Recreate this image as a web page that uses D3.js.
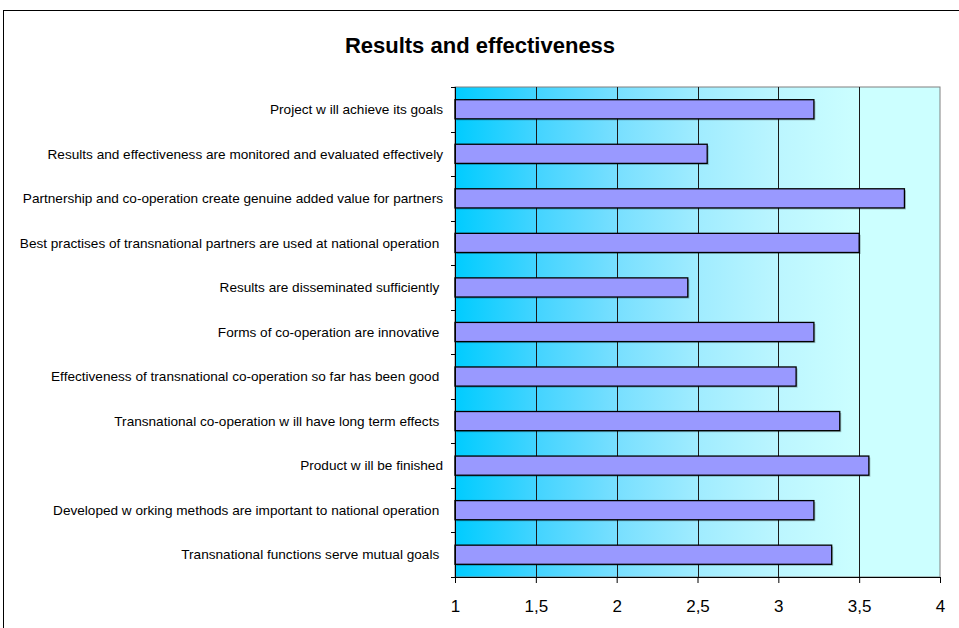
<!DOCTYPE html>
<html><head><meta charset="utf-8">
<script src="https://cdn.jsdelivr.net/npm/d3@7"></script>
<style>body{margin:0;background:#fff}svg{display:block}</style>
</head><body>
<svg id="c" width="959" height="628"></svg>
<script>
const categories = [
  "Project w ill achieve its goals",
  "Results and effectiveness are monitored and evaluated effectively",
  "Partnership and co-operation create genuine added value for partners",
  "Best practises of transnational partners are used at national operation ",
  "Results are disseminated sufficiently ",
  "Forms of co-operation are innovative ",
  "Effectiveness of transnational co-operation so far has been good ",
  "Transnational co-operation w ill have long term effects ",
  "Product w ill be finished",
  "Developed w orking methods are important to national operation ",
  "Transnational functions serve mutual goals "
];
const values = [3.22, 2.56, 3.78, 3.50, 2.44, 3.22, 3.11, 3.38, 3.56, 3.22, 3.33];
const xTicks = [1, 1.5, 2, 2.5, 3, 3.5, 4];
const title = "Results and effectiveness";

const svg = d3.select("#c");
const L = 455, R = 940, T = 87, B = 577;
const x = d3.scaleLinear().domain([1, 4]).range([L, R]);
const y = d3.scaleBand().domain(categories).range([T, B]).paddingInner(0.57).paddingOuter(0.285);
const step = y.step();
const FONT = "Liberation Sans, Arial, sans-serif";

// outer frame
svg.append("rect").attr("x", 3.5).attr("y", 10.5).attr("width", 1000).attr("height", 700)
  .attr("fill", "none").attr("stroke", "#000").attr("stroke-width", 1);

// title
svg.append("text").attr("x", 480).attr("y", 53).attr("text-anchor", "middle")
  .attr("font-family", FONT).attr("font-weight", "bold")
  .attr("font-size", 22).attr("fill", "#000").text(title);

// gradient
const defs = svg.append("defs");
const g = defs.append("linearGradient").attr("id", "bg").attr("x1", "0").attr("x2", "1").attr("y1", "0").attr("y2", "0");
[[0, "#00CCFF"], [0.17, "#44D4FF"], [0.33, "#77DFFF"], [0.5, "#A0ECFF"], [0.67, "#BCF6FF"], [0.84, "#CCFFFF"], [1, "#CCFFFF"]]
  .forEach(([o, c]) => g.append("stop").attr("offset", o).attr("stop-color", c));

svg.append("rect").attr("x", L).attr("y", T).attr("width", R - L).attr("height", B - T)
  .attr("fill", "url(#bg)").attr("stroke", "#808080").attr("stroke-width", 1);

// gridlines
svg.append("g").selectAll("line").data(xTicks.filter(d => d > 1 && d < 4)).join("line")
  .attr("x1", d => Math.round(x(d)) + 0.5).attr("x2", d => Math.round(x(d)) + 0.5)
  .attr("y1", T).attr("y2", B).attr("stroke", "#1a1a1a").attr("stroke-width", 1);

// bar shadows
svg.append("g").selectAll("rect").data(values).join("rect")
  .attr("x", x(1) + 1.5).attr("y", (d, i) => y(categories[i]) + 1.5)
  .attr("width", d => x(d) - x(1)).attr("height", y.bandwidth())
  .attr("fill", "#000").attr("opacity", 0.25);

// bars
svg.append("g").selectAll("rect").data(values).join("rect")
  .attr("x", x(1)).attr("y", (d, i) => y(categories[i]))
  .attr("width", d => x(d) - x(1)).attr("height", y.bandwidth())
  .attr("fill", "#9999FF").attr("stroke", "#000").attr("stroke-width", 1.3);

// category labels
svg.append("g").selectAll("text").data(categories).join("text")
  .attr("x", 443).attr("y", d => y(d) + y.bandwidth() / 2).attr("dy", "0.35em")
  .attr("text-anchor", "end").attr("font-family", FONT)
  .attr("font-size", 13.6).attr("fill", "#000").style("white-space", "pre").text(d => d);

// left axis line and ticks at category boundaries
const bounds = categories.map(c => y(c) - step * 0.57 / 2).concat([B]);
bounds[0] = T;
svg.append("line").attr("x1", L + 0.5).attr("x2", L + 0.5).attr("y1", T).attr("y2", B).attr("stroke", "#000");
svg.append("g").selectAll("line").data(bounds).join("line")
  .attr("x1", L - 4).attr("x2", L).attr("y1", d => Math.round(d) + 0.5).attr("y2", d => Math.round(d) + 0.5)
  .attr("stroke", "#000");

// bottom axis
const ax = svg.append("g").attr("transform", `translate(0,${B})`)
  .call(d3.axisBottom(x).tickValues(xTicks).tickSize(6).tickPadding(17)
    .tickFormat(d => String(d).replace(".", ",")));
ax.select(".domain").attr("stroke", "#000");
ax.selectAll(".tick line").attr("stroke", "#000");
ax.selectAll("text").attr("font-family", FONT).attr("font-size", 17).attr("fill", "#000");
</script>
</body></html>
